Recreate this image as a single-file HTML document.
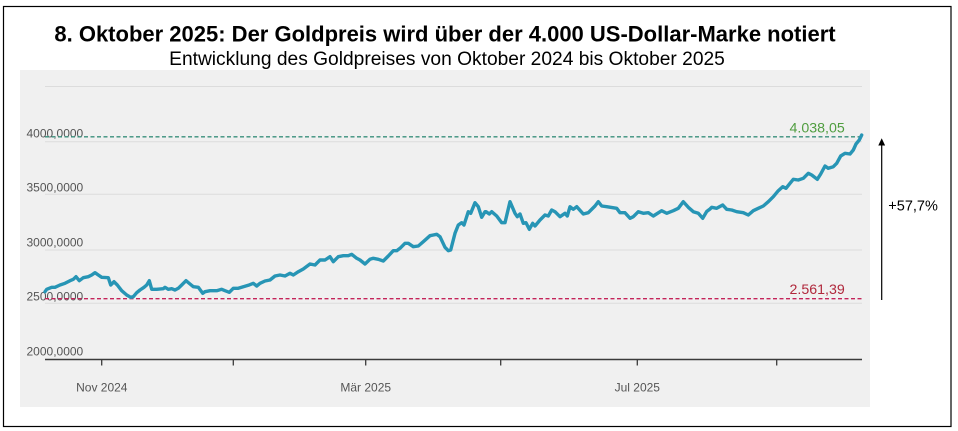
<!DOCTYPE html>
<html>
<head>
<meta charset="utf-8">
<style>
  html, body { margin: 0; padding: 0; background: #ffffff; }
  body { width: 958px; height: 431px; overflow: hidden; }
  svg { display: block; }
</style>
</head>
<body>
<svg width="958" height="431" viewBox="0 0 958 431" xmlns="http://www.w3.org/2000/svg">
  <rect x="0" y="0" width="958" height="431" fill="#ffffff"/>
  <!-- outer border -->
  <rect x="3.5" y="6.5" width="947.5" height="420" fill="none" stroke="#000" stroke-width="1.2"/>

  <!-- titles -->
  <text x="445" y="41.7" text-anchor="middle" font-family="Liberation Sans, Arial, sans-serif" font-weight="bold" font-size="22" fill="#000">8. Oktober 2025: Der Goldpreis wird über der 4.000 US-Dollar-Marke notiert</text>
  <text x="447" y="65" text-anchor="middle" font-family="Liberation Sans, Arial, sans-serif" font-size="19.2" fill="#000">Entwicklung des Goldpreises von Oktober 2024 bis Oktober 2025</text>

  <!-- plot background -->
  <rect x="20" y="70" width="850" height="337" fill="#f0f0f0"/>

  <!-- gridlines -->
  <g stroke="#dcdcdc" stroke-width="1">
    <line x1="45" y1="86.5" x2="862" y2="86.5"/>
    <line x1="45" y1="141.7" x2="862" y2="141.7"/>
    <line x1="45" y1="194.3" x2="862" y2="194.3"/>
    <line x1="45" y1="250" x2="862" y2="250"/>
    <line x1="45" y1="303.3" x2="862" y2="303.3"/>
  </g>

  <!-- y labels -->
  <g font-family="Liberation Sans, Arial, sans-serif" font-size="12" fill="#555">
    <text x="26.5" y="137.5">4000,0000</text>
    <text x="26.5" y="191.7">3500,0000</text>
    <text x="26.5" y="246.7">3000,0000</text>
    <text x="26.5" y="300.5">2500,0000</text>
    <text x="26.5" y="355.3">2000,0000</text>
  </g>

  <!-- reference dashed lines -->
  <line x1="45" y1="136.8" x2="862" y2="136.8" stroke="#3a8f7c" stroke-width="1.3" stroke-dasharray="4,2.5"/>
  <line x1="45" y1="298.7" x2="862" y2="298.7" stroke="#c4245a" stroke-width="1.3" stroke-dasharray="4,2.5"/>

  <!-- x axis -->
  <line x1="45" y1="359.5" x2="862" y2="359.5" stroke="#3a3a3a" stroke-width="1.5"/>
  <g stroke="#3a3a3a" stroke-width="1.3">
    <line x1="101.7" y1="359.5" x2="101.7" y2="365.5"/>
    <line x1="233.3" y1="359.5" x2="233.3" y2="365.5"/>
    <line x1="365.7" y1="359.5" x2="365.7" y2="365.5"/>
    <line x1="500.7" y1="359.5" x2="500.7" y2="365.5"/>
    <line x1="637.3" y1="359.5" x2="637.3" y2="365.5"/>
    <line x1="776.7" y1="359.5" x2="776.7" y2="365.5"/>
  </g>
  <g font-family="Liberation Sans, Arial, sans-serif" font-size="12" fill="#555" text-anchor="middle">
    <text x="101.8" y="391.7">Nov 2024</text>
    <text x="365.7" y="391.7">Mär 2025</text>
    <text x="637.3" y="391.7">Jul 2025</text>
  </g>

  <!-- price line -->
  <polyline fill="none" stroke="#2795b5" stroke-width="3.4" stroke-linejoin="round" stroke-linecap="round" points="
45,291.7 46.7,289.3 51.7,287.3 55,287.3 60,285 65,283.3 70,280.7 73.3,279.3 76,276.7 79.3,280.7 83.3,277.7 88.3,276.7 91.7,275 95,272.7 98.3,275 101.7,277.3 108.3,277.7 110.7,285 114,281.7 117.3,285 121.7,290.7 126.7,295 130.7,297.3 133.3,296.7 136.7,292.7 140,290 144,287.3 146.7,285 149.3,280.7 151.7,289.3 156.7,289.3 163.3,288.7 165,287.3 168.3,289.3 171.7,288.7 175,290 178.3,288.3 181.7,285 186,280.7 190,284 193.3,286.7 198.3,287.3 202.7,293.3 205,291.7 210,290.7 216.7,290.7 221.7,289.3 225,290.7 229.3,292.3 233.3,288.3 238.3,288.3 243.3,286.7 248.3,285.3 253.3,283.3 256.7,286 260,283.3 265,281 270,280
275,276 280,275 285,276 290,273.3 293.3,275 298.3,271.7 303.3,269 310,264 315,265 320,260 325,260 330,256.7 333.3,261.7 338.3,256.7 343.3,255.7 348.3,255.7 351.7,254.3 356.7,258.3 360,260 365,264 370,259.3 373.3,258.3 378.3,259.3 383.3,261 388.3,256 393.3,250.7 396.7,250.7 400,248.3 405,243.3 408.3,243.3 413.3,246.7 418.3,246 423.3,241.7 430,235.7 433.3,235 436.7,234.3 440,236.7 445,247.3 448.3,250.7 450.7,250 455,233.3 458.3,225 461.7,222.7 464,225 468.3,211.7 470.7,213.3 475,202.7 478.3,206.7 481.7,217.3 485,211.7
486,211.7 489.3,214 491.7,211.7 496.7,216 501.7,222.7 505,222.7 510,201.7 515,213.3 517.3,216.7 520,214 523.3,223.3 526,222.7 529.3,229.3 532.7,223.3 535,226 540,220 545,215 548.3,216 551.7,210 555,211.7 560,216.7 565,213.3 567.3,216 570,206.7 573.3,209.3 576.7,206.7 583.3,214 588.3,212.7 595,206 598.3,201.7 601.7,206 606.7,206.7 616.7,208.3 620,212.7 625,212.7 630,218.3 633.3,216.7 638.3,211.7 643.3,213.3 648.3,212.7 653.3,216 661.7,210.7 666.7,213.3 673.3,210.7 678.3,208.3 683.3,201.7 688.3,207.3 693.3,211.7 698.3,213.3 702.7,218.3 706.7,211.5 710,209
711.7,207.3 716.7,208.3 722.7,205 726.7,209.3 731.7,210 736.7,211.7 743.3,212.7 748.3,215 753.3,210.7 758.3,208.3 763.3,206 768.3,201.7 773.3,196.7 778.3,190.7 782.7,186.7 786,188.3 790,183.3 793.3,179.3 798.3,180 803.3,178.3 808.3,173.3 811.7,175 817.3,179.3 820.7,174 825,166 828.3,168.3 833.3,166.7 836.7,163.3 840.7,156 845,153.3 850,154 853.3,150 856,144 859.3,140 861.7,135"/>

  <!-- value labels -->
  <text x="789.5" y="132.7" font-family="Liberation Sans, Arial, sans-serif" font-size="14.2" fill="#4f9d3f">4.038,05</text>
  <text x="789.5" y="294" font-family="Liberation Sans, Arial, sans-serif" font-size="14.2" fill="#b0283c">2.561,39</text>

  <!-- arrow -->
  <line x1="881.7" y1="144" x2="881.7" y2="300" stroke="#000" stroke-width="1.2"/>
  <polygon points="881.7,138.3 878.3,145.5 885.1,145.5" fill="#000"/>
  <text x="888.3" y="210.5" font-family="Liberation Sans, Arial, sans-serif" font-size="14.5" fill="#000">+57,7%</text>
</svg>
</body>
</html>
